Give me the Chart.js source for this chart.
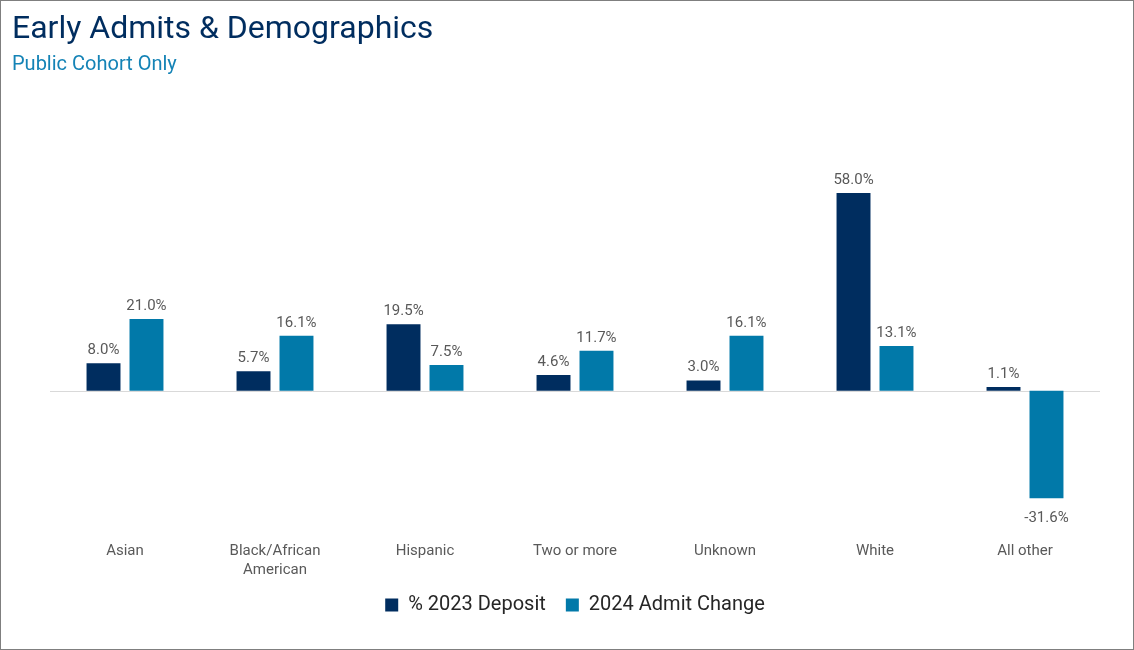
<!DOCTYPE html>
<html>
<head>
<meta charset="utf-8">
<script src="https://cdn.jsdelivr.net/npm/chart.js@4.4.1/dist/chart.umd.min.js"></script>
<style>
  html, body { margin: 0; padding: 0; background: #fff; }
  #wrap { width: 1134px; height: 650px; box-sizing: border-box; border: 1px solid #7f7f7f; position: relative; }
  canvas { display: block; }
</style>
</head>
<body>
<div id="wrap"><canvas id="chart" width="1132" height="648"></canvas></div>
<script>
// categories and series
const categories = ['Asian', ['Black/African', 'American'], 'Hispanic', 'Two or more', 'Unknown', 'White', 'All other'];
const deposit2023 = [8.0, 5.7, 19.5, 4.6, 3.0, 58.0, 1.1];
const admitChange2024 = [21.0, 16.1, 7.5, 11.7, 16.1, 13.1, -31.6];
const seriesNames = ['% 2023 Deposit', '2024 Admit Change'];
const titleText = 'Early Admits & Demographics';
const subtitleText = 'Public Cohort Only';

const NAVY = '#002D5F';
const TEAL = '#0179A9';
const FONT = 'Roboto, "Noto Sans", sans-serif';

// title + subtitle pinned to the top-left corner (outside the chart padding)
const headerText = {
  id: 'headerText',
  afterDraw(chart) {
    const ctx = chart.ctx;
    ctx.save();
    ctx.textAlign = 'left';
    ctx.textBaseline = 'alphabetic';
    ctx.fillStyle = NAVY;
    ctx.font = '32px ' + FONT;
    ctx.fillText(titleText, 11, 37);
    ctx.fillStyle = '#1483B6';
    ctx.font = '20px ' + FONT;
    ctx.fillText(subtitleText, 11, 69);
    ctx.restore();
  }
};

// draws the value above (or below, for negatives) each bar
const valueLabels = {
  id: 'valueLabels',
  afterDatasetsDraw(chart) {
    const ctx = chart.ctx;
    ctx.save();
    ctx.font = '15px ' + FONT;
    ctx.fillStyle = '#595959';
    ctx.textAlign = 'center';
    ctx.textBaseline = 'alphabetic';
    chart.data.datasets.forEach((ds, i) => {
      const meta = chart.getDatasetMeta(i);
      meta.data.forEach((bar, j) => {
        const v = ds.data[j];
        const txt = v.toFixed(1) + '%';
        ctx.fillText(txt, bar.x, v >= 0 ? bar.y - 9 : bar.y + 24);
      });
    });
    ctx.restore();
  }
};

const zeroLine = {
  id: 'zeroLine',
  beforeDatasetsDraw(chart) {
    const { ctx, chartArea, scales } = chart;
    const y0 = Math.round(scales.y.getPixelForValue(0)) + 0.5;
    ctx.save();
    ctx.strokeStyle = '#D9D9D9';
    ctx.lineWidth = 1;
    ctx.beginPath();
    ctx.moveTo(chartArea.left, y0);
    ctx.lineTo(chartArea.right, y0);
    ctx.stroke();
    ctx.restore();
  }
};

new Chart(document.getElementById('chart'), {
  type: 'bar',
  data: {
    labels: categories,
    datasets: [
      { label: seriesNames[0], data: deposit2023, backgroundColor: NAVY },
      { label: seriesNames[1], data: admitChange2024, backgroundColor: TEAL }
    ]
  },
  options: {
    responsive: false,
    animation: false,
    layout: { padding: { top: 151, left: 49, right: 33, bottom: 24 } },
    datasets: { bar: { categoryPercentage: 0.573, barPercentage: 0.79 } },
    scales: {
      x: {
        grid: { display: false, drawTicks: false },
        border: { display: false },
        ticks: { color: '#595959', font: { family: FONT, size: 15, lineHeight: 1.3 }, padding: 14, maxRotation: 0 },
        afterFit(scale) { scale.height -= 19; }
      },
      y: {
        display: false,
        min: -40,
        max: 70
      }
    },
    plugins: {
      title: { display: false },
      legend: {
        position: 'bottom',
        labels: {
          color: '#262626',
          font: { family: FONT, size: 20 },
          boxWidth: 13,
          boxHeight: 13,
          padding: 20
        }
      },
      tooltip: { enabled: false }
    }
  },
  plugins: [valueLabels, zeroLine, headerText]
});
</script>
</body>
</html>
